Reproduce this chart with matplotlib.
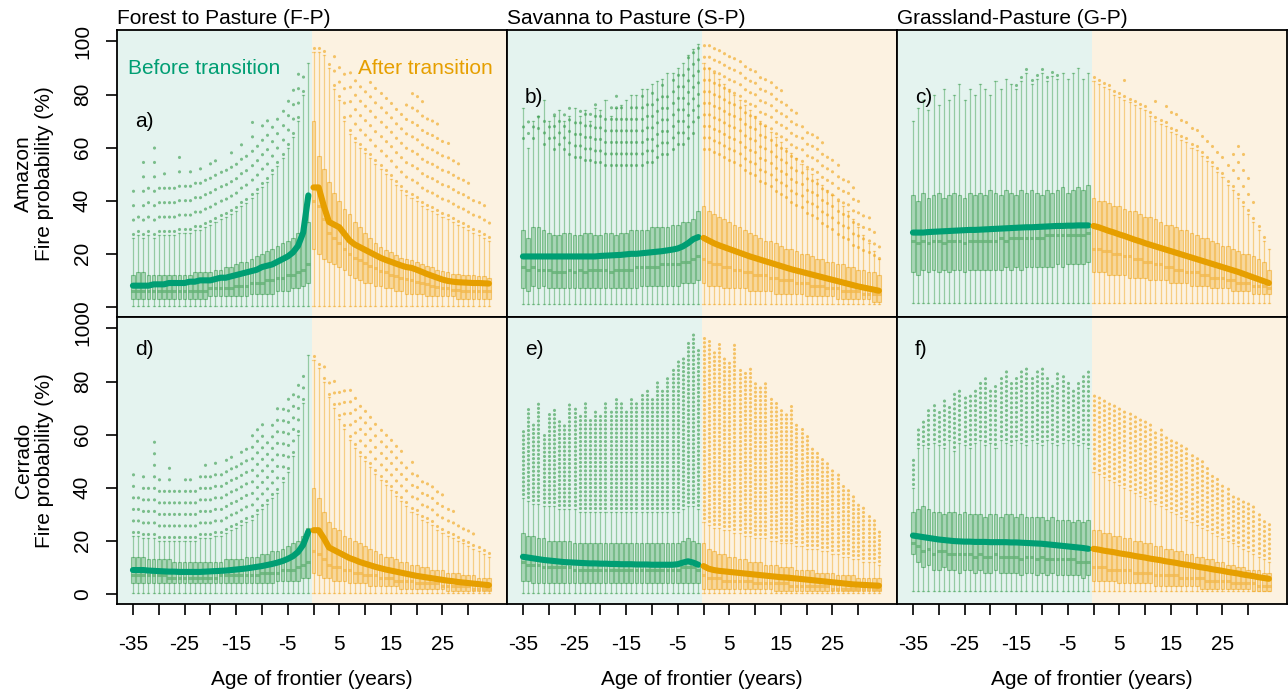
import matplotlib.pyplot as plt

plt.rcParams['font.family'] = ['Liberation Sans', 'DejaVu Sans']

# years relative to the transition
years_before = list(range(-35, 0))
years_after = list(range(0, 35))
xtick_pos = [-35, -30, -25, -20, -15, -10, -5, 0, 5, 10, 15, 20, 25, 30]
xtick_lab = ['-35', '', '-25', '', '-15', '', '-5', '', '5', '', '15', '', '25', '']
ytick_pos = [0, 20, 40, 60, 80, 100]

col_titles = ['Forest to Pasture (F-P)', 'Savanna to Pasture (S-P)', 'Grassland-Pasture (G-P)']
row_labels = ['Amazon\nFire probability (%)', 'Cerrado\nFire probability (%)']
panel_tags = ['a)', 'b)', 'c)', 'd)', 'e)', 'f)']
tag_y = [70, 79, 79, 92, 92, 92]
whisker_low = [0.5, 1, 1.5, 0.5, 0.5, 1]

# ---- a) Forest to Pasture, Amazon
a_b_mean = [8, 8, 8, 8, 8.5, 8.5, 8.5, 9, 9, 9, 9, 9.5, 9.5, 10, 10, 10, 10.5, 11, 11, 11.5, 12, 12.5, 13, 13.5, 14, 15, 15.5, 16, 17, 18, 19, 20.5, 23, 28, 42]
a_b_q1 = [3, 3, 3, 3, 3, 3, 3, 3, 3, 3, 3, 3, 3, 3, 3, 4, 4, 4, 4, 4, 4, 4, 4, 5, 5, 5, 5, 5, 6, 6, 6, 7, 7, 8, 9]
a_b_med = [6, 6, 6, 6, 6, 6, 6, 6, 6, 6, 6, 6, 6, 6, 6, 7, 7, 7, 7, 7, 8, 8, 8, 9, 9, 9, 10, 10, 11, 11, 12, 12, 13, 14, 16]
a_b_q3 = [12, 13, 13, 12, 12, 12, 12, 12, 12, 12, 12, 12, 13, 13, 13, 13, 14, 14, 15, 15, 16, 17, 17, 18, 19, 20, 21, 22, 23, 24, 25, 26, 28, 30, 32]
a_b_whi = [26, 27, 26, 27, 26, 27, 27, 27, 27, 28, 28, 28, 29, 29, 30, 31, 32, 33, 34, 35, 36, 38, 39, 41, 43, 45, 47, 50, 53, 56, 60, 64, 70, 80, 92]
a_b_out = [46, 36, 55, 50, 62, 48, 52, 45, 50, 58, 48, 52, 50, 55, 50, 55, 58, 52, 56, 60, 58, 62, 62, 70, 65, 72, 72, 70, 75, 78, 80, 85, 88, 92, 92]
a_a_mean = [45, 45, 38, 32, 31, 30, 27.5, 25, 23.5, 22.5, 21.5, 20.5, 19.5, 18.5, 17.7, 17, 16.3, 15.6, 15, 14.7, 14, 13.2, 12.4, 11.7, 11, 10.3, 9.8, 9.5, 9.3, 9.2, 9.1, 9, 9, 8.9, 8.8]
a_a_q1 = [22, 20, 18, 17, 16, 15, 14, 12, 11, 10, 9, 9, 8, 8, 7, 7, 6, 6, 5, 5, 5, 5, 4, 4, 4, 4, 4, 4, 3, 3, 3, 3, 3, 3, 3]
a_a_med = [40, 38, 33, 28, 26, 24, 22, 20, 18.5, 17.5, 16.5, 15.5, 14.5, 13.5, 13, 12, 11.5, 11, 10.5, 10, 9.5, 9, 8.5, 8, 7.5, 7, 7, 6.5, 6.5, 6, 6, 6, 6, 6, 6]
a_a_q3 = [70, 57, 52, 47, 43, 40, 37, 35, 32, 30, 28, 26, 24, 22.5, 21.5, 20.5, 19.5, 18.5, 18, 17.5, 17, 16, 15.5, 15, 14, 13.5, 13, 12.5, 12.5, 12, 12, 12, 11.5, 11.5, 11]
a_a_whi = [96, 96, 95, 90, 82, 78, 70, 65, 62, 60, 58, 56, 54, 52, 50, 48, 46, 44, 42, 41, 40, 38, 37, 36, 35, 34, 33, 32, 31, 30, 29, 28, 27, 26, 25]
a_a_out = [98, 98, 98, 96, 95, 95, 92, 90, 88, 88, 85, 85, 85, 82, 80, 80, 78, 78, 80, 82, 84, 80, 75, 72, 70, 65, 62, 60, 55, 52, 50, 45, 42, 40, 35]

# ---- b) Savanna to Pasture, Amazon
b_b_mean = [19, 19, 19, 19, 19, 19, 19, 19, 19, 19, 19, 19, 19, 19, 19, 19.2, 19.3, 19.4, 19.5, 19.6, 19.8, 20, 20, 20.2, 20.4, 20.6, 20.8, 21, 21.3, 21.6, 22, 22.8, 24, 25.5, 26.3]
b_b_q1 = [7, 6, 8, 7, 8, 7, 7, 7, 7, 7, 7, 7, 7, 7, 7, 7, 7, 7, 7, 7, 7, 7, 7, 8, 8, 8, 8, 8, 8, 8, 8, 9, 9, 9, 10]
b_b_med = [15, 14, 15, 14, 14, 14, 13, 13, 13, 14, 13, 14, 13, 14, 14, 14, 14, 13, 14, 14, 14, 14, 15, 15, 15, 15, 15, 16, 16, 16, 16, 17, 17, 18, 19]
b_b_q3 = [29, 26, 30, 30, 29, 28, 27, 27, 28, 28, 27, 27, 28, 28, 27, 27, 28, 28, 27, 28, 28, 29, 29, 29, 29, 30, 30, 30, 30, 31, 31, 32, 32, 33, 36]
b_b_whi = [75, 60, 70, 72, 78, 70, 72, 74, 70, 72, 75, 72, 74, 70, 75, 74, 78, 72, 75, 76, 78, 80, 80, 82, 82, 84, 85, 86, 88, 88, 90, 92, 95, 97, 99]
b_b_olo = [62, 64, 62, 66, 60, 62, 58, 60, 58, 56, 55, 55, 54, 54, 53, 53, 52, 52, 52, 52, 52, 52, 52, 52, 53, 53, 55, 56, 56, 58, 60, 60, 62, 64, 70]
b_b_out = [70, 72, 70, 72, 74, 72, 74, 72, 74, 76, 72, 74, 76, 74, 78, 76, 74, 76, 80, 78, 74, 76, 78, 80, 78, 82, 80, 84, 82, 86, 88, 90, 95, 98, 99]
b_a_mean = [26, 25, 24, 23.2, 22.5, 21.8, 21.1, 20.4, 19.7, 19, 18.4, 17.8, 17.2, 16.6, 16, 15.4, 14.8, 14.2, 13.7, 13.2, 12.7, 12.2, 11.7, 11.2, 10.7, 10.2, 9.7, 9.2, 8.7, 8.2, 7.7, 7.3, 6.9, 6.5, 6.1]
b_a_q1 = [9, 8, 8, 8, 7, 7, 7, 7, 7, 6, 6, 6, 6, 6, 5, 5, 5, 5, 5, 5, 4, 4, 4, 4, 4, 4, 3, 3, 3, 3, 3, 3, 3, 2, 2]
b_a_med = [18, 17, 16, 16, 15, 15, 14, 14, 13, 13, 12, 12, 12, 11, 11, 10, 10, 10, 9, 9, 9, 8, 8, 8, 7, 7, 7, 6, 6, 6, 6, 5, 5, 5, 5]
b_a_q3 = [38, 36, 35, 34, 33, 32, 31, 30, 29, 28, 27, 26, 25, 25, 24, 23, 22, 22, 21, 20, 20, 19, 18, 18, 17, 17, 16, 16, 15, 15, 14, 14, 13, 13, 12]
b_a_whi = [92, 90, 88, 86, 84, 82, 80, 78, 76, 74, 72, 70, 68, 66, 64, 62, 60, 58, 56, 54, 52, 50, 48, 46, 44, 42, 40, 38, 36, 33, 30, 27, 24, 21, 18]
b_a_olo = [58, 58, 57, 56, 55, 54, 53, 52, 50, 49, 48, 46, 45, 44, 42, 41, 40, 38, 37, 36, 34, 33, 32, 30, 29, 28, 26, 25, 24, 22, 21, 20, 19, 18, 17]
b_a_out = [99, 99, 98, 98, 97, 96, 96, 95, 94, 92, 90, 90, 88, 86, 85, 82, 80, 78, 75, 72, 70, 68, 66, 62, 60, 58, 55, 52, 48, 45, 42, 38, 34, 30, 27]

# ---- c) Grassland-Pasture, Amazon
c_b_mean = [28, 28, 28, 28.2, 28.3, 28.4, 28.5, 28.6, 28.7, 28.8, 28.9, 29, 29, 29.1, 29.2, 29.3, 29.4, 29.5, 29.6, 29.7, 29.8, 29.9, 30, 30, 30.1, 30.2, 30.3, 30.4, 30.5, 30.5, 30.6, 30.6, 30.7, 30.7, 30.7]
c_b_q1 = [13, 12, 14, 13, 14, 13, 14, 13, 14, 14, 13, 14, 14, 14, 14, 14, 14, 14, 15, 14, 15, 14, 15, 15, 15, 15, 15, 15, 16, 15, 16, 16, 16, 16, 17]
c_b_med = [25, 24, 25, 24, 25, 25, 24, 25, 25, 25, 24, 25, 25, 25, 25, 25, 25, 26, 25, 26, 26, 26, 26, 26, 26, 26, 27, 27, 27, 27, 27, 27, 27, 27, 28]
c_b_q3 = [42, 40, 43, 41, 42, 43, 41, 42, 43, 42, 41, 43, 42, 43, 42, 44, 43, 42, 44, 43, 42, 44, 43, 44, 43, 42, 44, 43, 44, 45, 43, 44, 45, 44, 46]
c_b_whi = [70, 75, 78, 74, 80, 76, 82, 78, 80, 84, 78, 82, 80, 84, 82, 80, 85, 82, 86, 84, 82, 85, 88, 84, 86, 88, 85, 87, 86, 88, 86, 88, 90, 86, 88]
c_b_out = [70, 75, 78, 74, 80, 76, 82, 78, 80, 84, 78, 82, 80, 84, 82, 80, 85, 82, 86, 84, 88, 90, 92, 86, 88, 90, 88, 89, 88, 88, 86, 88, 90, 86, 88]
c_a_mean = [30.5, 30, 29.3, 28.6, 28, 27.3, 26.7, 26, 25.3, 24.7, 24, 23.4, 22.8, 22.2, 21.6, 21, 20.4, 19.8, 19.2, 18.6, 18, 17.4, 16.8, 16.2, 15.6, 15, 14.4, 13.8, 13.2, 12.5, 11.8, 11.1, 10.4, 9.7, 9]
c_a_q1 = [13, 13, 13, 12, 12, 12, 12, 11, 11, 11, 11, 10, 10, 10, 10, 9, 9, 9, 9, 8, 8, 8, 8, 7, 7, 7, 7, 6, 6, 6, 6, 5, 5, 5, 5]
c_a_med = [22, 22, 21, 21, 20, 20, 19, 19, 18, 18, 17, 17, 16, 16, 15, 15, 14, 14, 13, 13, 13, 12, 12, 11, 11, 11, 10, 10, 9, 9, 9, 8, 8, 8, 7]
c_a_q3 = [41, 40, 40, 39, 38, 38, 37, 36, 36, 35, 34, 34, 33, 32, 31, 31, 30, 29, 29, 28, 27, 26, 26, 25, 24, 23, 23, 22, 21, 20, 20, 19, 18, 17, 14]
c_a_whi = [85, 84, 83, 82, 80, 79, 78, 77, 76, 75, 74, 72, 70, 69, 68, 66, 65, 63, 62, 60, 59, 57, 55, 53, 51, 49, 46, 44, 41, 38, 35, 32, 29, 25, 22]
c_a_out = [90, 88, 89, 88, 86, 85, 86, 84, 82, 80, 80, 78, 78, 76, 76, 74, 74, 72, 72, 70, 68, 66, 65, 64, 62, 60, 58, 60, 62, 63, 50, 40, 35, 30, 22]

# ---- d) Forest to Pasture, Cerrado
d_b_mean = [9, 9, 9, 8.8, 8.7, 8.6, 8.5, 8.4, 8.4, 8.3, 8.3, 8.3, 8.3, 8.3, 8.4, 8.5, 8.6, 8.7, 8.8, 9, 9.2, 9.4, 9.6, 9.9, 10.2, 10.5, 10.9, 11.3, 11.8, 12.4, 13.2, 14.2, 15.8, 18.5, 23.5]
d_b_q1 = [4, 4, 4, 4, 4, 4, 4, 4, 4, 4, 4, 4, 4, 4, 4, 4, 4, 4, 4, 4, 4, 4, 4, 4, 4, 4, 4, 4, 5, 5, 5, 5, 5, 6, 6]
d_b_med = [7, 7, 7, 7, 7, 7, 7, 6, 6, 6, 6, 6, 6, 6, 6, 6, 6, 7, 7, 7, 7, 7, 7, 7, 7, 8, 8, 8, 8, 9, 9, 9, 10, 11, 12]
d_b_q3 = [14, 14, 14, 13, 13, 13, 13, 13, 12, 12, 12, 12, 12, 12, 12, 12, 12, 12, 13, 13, 13, 13, 14, 14, 14, 15, 15, 16, 16, 17, 18, 19, 20, 22, 25]
d_b_whi = [22, 22, 21, 21, 21, 20, 20, 20, 20, 20, 20, 20, 20, 21, 21, 21, 22, 22, 23, 24, 25, 26, 27, 28, 30, 32, 34, 36, 38, 42, 46, 52, 60, 72, 90]
d_b_out = [45, 40, 45, 42, 60, 44, 42, 48, 40, 42, 46, 44, 42, 45, 50, 48, 50, 48, 52, 54, 50, 56, 58, 60, 62, 64, 60, 66, 70, 72, 74, 78, 80, 85, 90]
d_a_mean = [24, 24, 21, 17.5, 16.5, 15.5, 14.5, 13.5, 12.8, 12, 11.4, 10.8, 10.2, 9.7, 9.2, 8.8, 8.4, 8, 7.6, 7.2, 6.8, 6.5, 6.2, 5.9, 5.6, 5.3, 5, 4.8, 4.5, 4.3, 4.1, 3.9, 3.7, 3.5, 3.3]
d_a_q1 = [8, 7, 6, 6, 5, 5, 5, 4, 4, 4, 4, 3, 3, 3, 3, 3, 3, 2, 2, 2, 2, 2, 2, 2, 2, 2, 1, 1, 1, 1, 1, 1, 1, 1, 1]
d_a_med = [16, 15, 13, 11, 10, 10, 9, 9, 8, 8, 7, 7, 7, 6, 6, 6, 5, 5, 5, 5, 4, 4, 4, 4, 4, 3, 3, 3, 3, 3, 3, 2, 2, 2, 2]
d_a_q3 = [40, 36, 31, 27, 25, 24, 22, 21, 20, 19, 18, 17, 16, 15, 14, 14, 13, 12, 12, 11, 11, 10, 10, 9, 9, 9, 8, 8, 8, 7, 7, 7, 6, 6, 6]
d_a_whi = [88, 85, 80, 74, 70, 66, 62, 58, 55, 52, 50, 48, 45, 43, 41, 39, 37, 35, 33, 31, 30, 28, 27, 26, 24, 23, 22, 21, 20, 19, 18, 17, 16, 15, 14]
d_a_out = [90, 88, 86, 84, 82, 80, 78, 78, 76, 74, 72, 70, 68, 66, 64, 60, 58, 55, 52, 50, 48, 45, 44, 42, 40, 38, 35, 32, 30, 28, 26, 24, 22, 20, 18]

# ---- e) Savanna to Pasture, Cerrado
e_b_mean = [14, 13.7, 13.4, 13.1, 12.8, 12.6, 12.4, 12.2, 12, 11.9, 11.8, 11.7, 11.6, 11.5, 11.5, 11.4, 11.4, 11.3, 11.3, 11.2, 11.2, 11.2, 11.1, 11.1, 11.1, 11, 11, 11, 11, 11, 11.2, 11.8, 12.3, 11.8, 11]
e_b_q1 = [5, 5, 4, 4, 4, 4, 4, 4, 4, 4, 4, 4, 4, 4, 4, 4, 4, 4, 4, 4, 4, 4, 4, 4, 4, 4, 4, 4, 4, 4, 4, 4, 4, 4, 4]
e_b_med = [12, 11, 11, 11, 10, 10, 10, 10, 10, 10, 9, 9, 9, 9, 9, 9, 9, 9, 9, 9, 9, 9, 9, 9, 9, 9, 9, 9, 9, 9, 9, 10, 10, 10, 9]
e_b_q3 = [23, 22, 22, 21, 21, 20, 20, 20, 20, 20, 19, 19, 19, 19, 19, 19, 19, 19, 19, 19, 19, 19, 19, 19, 19, 19, 19, 19, 19, 19, 19, 20, 21, 20, 19]
e_b_whi = [36, 35, 34, 34, 33, 33, 33, 32, 32, 32, 32, 31, 31, 31, 31, 31, 31, 31, 31, 31, 31, 31, 31, 31, 31, 31, 31, 31, 31, 31, 31, 32, 33, 33, 32]
e_b_out = [62, 70, 65, 72, 60, 68, 70, 66, 64, 72, 70, 68, 72, 66, 70, 68, 72, 70, 74, 72, 70, 74, 72, 76, 78, 74, 80, 78, 82, 85, 88, 90, 95, 98, 92]
e_a_mean = [10.5, 9.5, 9, 8.7, 8.5, 8.3, 8.1, 7.9, 7.7, 7.5, 7.3, 7.1, 6.9, 6.7, 6.5, 6.3, 6.2, 6, 5.8, 5.6, 5.4, 5.2, 5, 4.8, 4.6, 4.4, 4.2, 4, 3.8, 3.6, 3.5, 3.4, 3.3, 3.2, 3.1]
e_a_q1 = [2, 2, 2, 2, 2, 2, 2, 2, 2, 2, 2, 2, 2, 2, 1, 1, 1, 1, 1, 1, 1, 1, 1, 1, 1, 1, 1, 1, 1, 1, 1, 1, 1, 1, 1]
e_a_med = [7, 6, 6, 6, 5, 5, 5, 5, 5, 5, 4, 4, 4, 4, 4, 4, 4, 3, 3, 3, 3, 3, 3, 3, 3, 2, 2, 2, 2, 2, 2, 2, 2, 2, 2]
e_a_q3 = [19, 17, 16, 15, 15, 14, 14, 13, 13, 12, 12, 12, 11, 11, 11, 10, 10, 10, 9, 9, 9, 9, 8, 8, 8, 8, 7, 7, 7, 7, 6, 6, 6, 6, 6]
e_a_whi = [27, 26, 25, 25, 24, 24, 23, 23, 22, 22, 21, 21, 21, 20, 20, 19, 19, 19, 18, 18, 17, 17, 17, 16, 16, 15, 15, 14, 14, 13, 13, 12, 12, 12, 11]
e_a_out = [98, 96, 92, 95, 90, 88, 94, 86, 84, 85, 80, 78, 80, 74, 72, 70, 68, 72, 64, 62, 60, 56, 54, 52, 50, 48, 45, 42, 40, 38, 35, 33, 30, 28, 25]

# ---- f) Grassland-Pasture, Cerrado
f_b_mean = [22, 21.7, 21.4, 21.1, 20.8, 20.5, 20.3, 20.1, 19.9, 19.8, 19.7, 19.7, 19.6, 19.6, 19.6, 19.5, 19.5, 19.5, 19.5, 19.4, 19.4, 19.3, 19.2, 19.1, 19, 18.9, 18.7, 18.5, 18.3, 18.1, 17.9, 17.7, 17.5, 17.3, 17]
f_b_q1 = [15, 12, 10, 11, 9, 9, 10, 9, 9, 8, 9, 9, 8, 9, 8, 8, 9, 8, 8, 8, 8, 7, 8, 8, 7, 8, 7, 8, 7, 7, 7, 7, 7, 6, 7]
f_b_med = [19, 18, 16, 17, 15, 16, 16, 15, 15, 15, 15, 15, 14, 15, 14, 14, 15, 14, 14, 14, 14, 13, 14, 14, 13, 14, 13, 13, 13, 13, 13, 13, 12, 12, 12]
f_b_q3 = [31, 32, 33, 32, 31, 31, 30, 31, 31, 30, 31, 30, 30, 30, 29, 30, 30, 29, 30, 30, 29, 30, 29, 29, 29, 29, 28, 29, 28, 28, 28, 27, 28, 27, 28]
f_b_whi = [40, 55, 56, 55, 57, 56, 55, 58, 54, 57, 56, 55, 57, 58, 56, 57, 55, 58, 57, 56, 58, 57, 56, 58, 57, 56, 58, 57, 56, 57, 58, 57, 56, 57, 55]
f_b_out = [52, 62, 66, 70, 72, 70, 74, 72, 76, 78, 74, 76, 78, 80, 82, 78, 80, 82, 84, 80, 82, 84, 86, 82, 84, 86, 82, 80, 84, 82, 80, 78, 80, 82, 84]
f_a_mean = [17, 16.7, 16.3, 16, 15.7, 15.3, 15, 14.7, 14.3, 14, 13.7, 13.3, 13, 12.7, 12.3, 12, 11.7, 11.3, 11, 10.7, 10.3, 10, 9.7, 9.3, 9, 8.7, 8.3, 8, 7.7, 7.3, 7, 6.7, 6.3, 6, 5.7]
f_a_q1 = [5, 5, 5, 5, 5, 4, 4, 4, 4, 4, 4, 4, 3, 3, 3, 3, 3, 3, 3, 3, 3, 2, 2, 2, 2, 2, 2, 2, 2, 2, 2, 1, 1, 1, 1]
f_a_med = [10, 10, 10, 9, 9, 9, 9, 9, 8, 8, 8, 8, 7, 7, 7, 7, 7, 6, 6, 6, 6, 6, 5, 5, 5, 5, 5, 4, 4, 4, 4, 4, 3, 3, 3]
f_a_q3 = [24, 24, 23, 23, 22, 22, 21, 21, 20, 20, 19, 19, 18, 18, 17, 17, 16, 16, 15, 15, 14, 14, 13, 13, 12, 12, 11, 11, 10, 10, 9, 9, 9, 8, 8]
f_a_whi = [46, 45, 44, 43, 42, 41, 40, 39, 38, 37, 36, 35, 34, 33, 32, 31, 30, 29, 28, 27, 26, 25, 24, 23, 22, 21, 20, 19, 18, 17, 16, 15, 14, 13, 12]
f_a_out = [76, 75, 74, 72, 72, 70, 70, 68, 68, 66, 66, 64, 62, 62, 60, 58, 58, 56, 55, 54, 52, 50, 48, 46, 44, 42, 40, 38, 37, 36, 35, 33, 31, 29, 27]

# (mean, q1, med, q3, whisker top, outlier start or None, outlier top)
before_parts = [
    (a_b_mean, a_b_q1, a_b_med, a_b_q3, a_b_whi, None, a_b_out),
    (b_b_mean, b_b_q1, b_b_med, b_b_q3, b_b_whi, b_b_olo, b_b_out),
    (c_b_mean, c_b_q1, c_b_med, c_b_q3, c_b_whi, None, c_b_out),
    (d_b_mean, d_b_q1, d_b_med, d_b_q3, d_b_whi, None, d_b_out),
    (e_b_mean, e_b_q1, e_b_med, e_b_q3, e_b_whi, None, e_b_out),
    (f_b_mean, f_b_q1, f_b_med, f_b_q3, f_b_whi, None, f_b_out),
]
after_parts = [
    (a_a_mean, a_a_q1, a_a_med, a_a_q3, a_a_whi, None, a_a_out),
    (b_a_mean, b_a_q1, b_a_med, b_a_q3, b_a_whi, b_a_olo, b_a_out),
    (c_a_mean, c_a_q1, c_a_med, c_a_q3, c_a_whi, None, c_a_out),
    (d_a_mean, d_a_q1, d_a_med, d_a_q3, d_a_whi, None, d_a_out),
    (e_a_mean, e_a_q1, e_a_med, e_a_q3, e_a_whi, None, e_a_out),
    (f_a_mean, f_a_q1, f_a_med, f_a_q3, f_a_whi, None, f_a_out),
]
# spacing of outlier dots (sparse vs dense clouds)
dot_gap = [4.5, 3.6, 5.0, 3.6, 1.3, 1.5]

green_line = '#009E73'
orange_line = '#E69F00'
green_box = (0.20, 0.60, 0.28)
orange_box = (0.94, 0.64, 0.08)
green_bg = '#E4F3EF'
orange_bg = '#FCF2E1'


def draw_part(ax, years, part, wlo, rgb, line_col, gap):
    mean, q1, med, q3, whi, olo, ohi = part
    stats = []
    for i in range(len(years)):
        stats.append(dict(med=med[i], q1=q1[i], q3=q3[i], whislo=wlo, whishi=whi[i], fliers=[]))
    ax.bxp(stats, positions=years, widths=0.72, patch_artist=True, showfliers=False,
           capwidths=0.4, manage_ticks=False,
           boxprops=dict(facecolor=(*rgb, 0.33), edgecolor=(*rgb, 0.5), linewidth=0.8),
           medianprops=dict(color=(*rgb, 0.45), linewidth=2.2),
           whiskerprops=dict(color=(*rgb, 0.45), linewidth=0.9),
           capprops=dict(color=(*rgb, 0.45), linewidth=0.9))
    if olo is None:
        olo = whi
    for x, lo, hi in zip(years, olo, ohi):
        if hi > lo + 1:
            ax.plot([x, x], [lo + 1.5, hi], color=rgb, alpha=0.6, lw=2.3,
                    linestyle=(0, (0.01, gap)), dash_capstyle='round', zorder=3)
    ax.plot(years, mean, color=line_col, lw=4.4, solid_capstyle='round', zorder=6)


fig = plt.figure(figsize=(12.88, 6.95), dpi=100)
lefts = [0.0908, 0.3936, 0.6964]
bottoms = [0.5439, 0.1309]
for k in range(6):
    row, col = divmod(k, 3)
    ax = fig.add_axes([lefts[col], bottoms[row], 0.3028, 0.4129])
    ax.axvspan(-40, -0.25, color=green_bg, lw=0, zorder=0)
    ax.axvspan(-0.25, 40, color=orange_bg, lw=0, zorder=0)
    draw_part(ax, years_before, before_parts[k], whisker_low[k], green_box, green_line, dot_gap[k])
    draw_part(ax, years_after, after_parts[k], whisker_low[k], orange_box, orange_line, dot_gap[k])
    ax.set_xlim(-38.1, 37.5)
    ax.set_ylim(-3.8, 104.3)
    for s in ax.spines.values():
        s.set_linewidth(1.3)
    ax.tick_params(length=8, width=1.2, labelsize=15, pad=10)
    if row == 1:
        ax.set_xticks(xtick_pos)
        ax.set_xticklabels(xtick_lab)
        ax.tick_params(axis='x', pad=14)
        ax.set_xlabel('Age of frontier (years)', fontsize=15, labelpad=12)
    else:
        ax.set_xticks([])
        ax.set_title(col_titles[col], loc='left', fontsize=15, pad=4)
    if col == 0:
        ax.set_yticks(ytick_pos)
        ax.set_yticklabels([str(v) for v in ytick_pos], rotation=90, va='center')
        ax.set_ylabel(row_labels[row], fontsize=15, labelpad=14, linespacing=1.1)
    else:
        ax.set_yticks([])
    ax.text(-34.6, tag_y[k], panel_tags[k], fontsize=15, ha='left', va='center', zorder=7)
    if k == 0:
        ax.text(-36, 89.8, 'Before transition', color=green_line, fontsize=15, ha='left', va='center', zorder=7)
        ax.text(34.8, 89.8, 'After transition', color=orange_line, fontsize=15, ha='right', va='center', zorder=7)

fig.savefig('out.png', dpi=100)
